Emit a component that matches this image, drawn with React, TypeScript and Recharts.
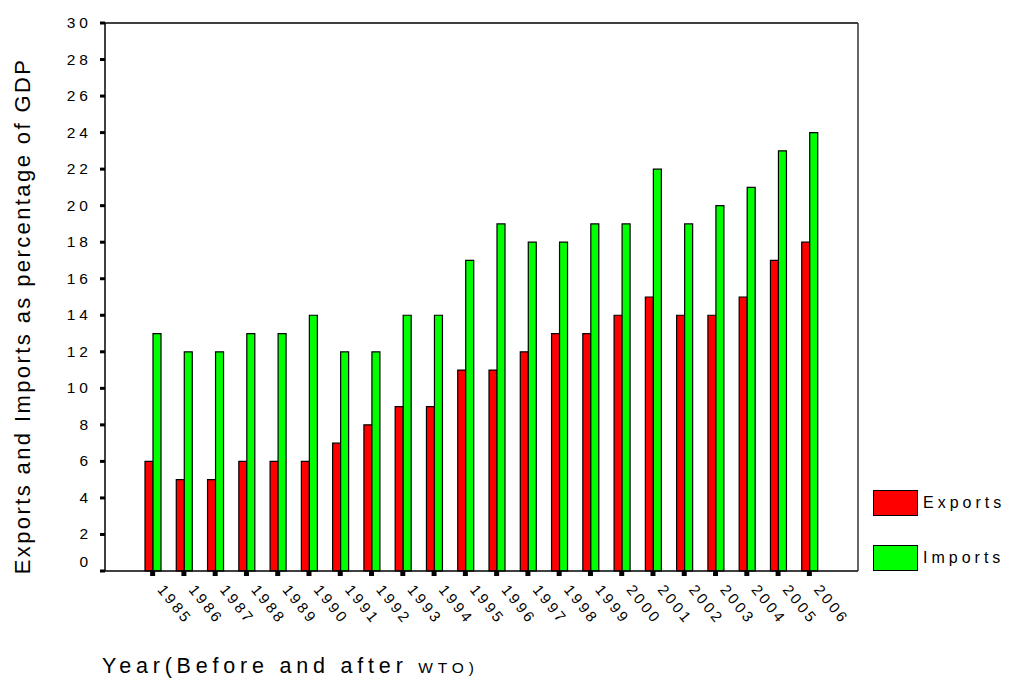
import React from 'react';
import { BarChart, Bar, XAxis, YAxis } from 'recharts';

const years = ['1985','1986','1987','1988','1989','1990','1991','1992','1993','1994','1995','1996','1997','1998','1999','2000','2001','2002','2003','2004','2005','2006'];
const exportsPct = [6,5,5,6,6,6,7,8,9,9,11,11,12,13,13,14,15,14,14,15,17,18];
const importsPct = [13,12,12,13,13,14,12,12,14,14,17,19,18,18,19,19,22,19,20,21,23,24];
const yTicks = [0,2,4,6,8,10,12,14,16,18,20,22,24,26,28,30];
const seriesNames = ['Exports', 'Imports'];
const seriesColors = ['#FF0000', '#00FF00'];

const data = years.map((y, i) => ({ year: y, Exports: exportsPct[i], Imports: importsPct[i] }));

const FONT = '"Liberation Sans", Arial, sans-serif';

const YTick = (props: any) => {
  const { x, y, payload } = props;
  const ls = 4;
  const yy = payload.value === 0 ? y - 9 : y;
  return (
    <text x={x + ls} y={yy} dy={5} textAnchor="end" fontSize={15.5} fontFamily={FONT} letterSpacing={ls} fill="#000">
      {payload.value}
    </text>
  );
};

const XTick = (props: any) => {
  const { x, y, payload } = props;
  return (
    <g transform={`translate(${x + 4},${y + 14}) rotate(51)`}>
      <text x={0} y={0} textAnchor="start" fontSize={15} fontFamily={FONT} letterSpacing={3} fill="#000">
        {payload.value}
      </text>
    </g>
  );
};

const YLabel = (props: any) => {
  const vb = props.viewBox || {};
  const cx = 22;
  const cy = vb.y + vb.height / 2 + 19;
  return (
    <text x={cx} y={cy} transform={`rotate(-90, ${cx}, ${cy})`} textAnchor="middle" dominantBaseline="central" fontSize={22} fontFamily={FONT} letterSpacing={2.4} fill="#000">
      Exports and Imports as percentage of GDP
    </text>
  );
};

const XLabel = (props: any) => {
  const vb = props.viewBox || {};
  return (
    <text x={vb.x - 3} y={vb.y + 102} textAnchor="start" fontFamily={FONT} fill="#000" letterSpacing={4.8}>
      <tspan fontSize={21.5}>Year(Before and after </tspan>
      <tspan fontSize={15.5}>WTO)</tspan>
    </text>
  );
};

const LegendBlock = () => (
  <div style={{ position: 'absolute', left: 873, top: 489, width: 140, fontFamily: FONT }}>
    {seriesNames.map((n, i) => (
      <div key={n} style={{ display: 'flex', alignItems: 'center', height: 27, marginBottom: i === 0 ? 28 : 0 }}>
        <div style={{ width: 43, height: 24, background: seriesColors[i], border: '1px solid #000', boxSizing: 'content-box' }} />
        <span style={{ marginLeft: 5, fontSize: 16, letterSpacing: 4, color: '#000' }}>{n}</span>
      </div>
    ))}
  </div>
);

export default function App() {
  return (
    <div style={{ position: 'absolute', left: 0, top: 0, width: 1010, height: 687, background: '#fff' }}>
      <BarChart
        width={1010}
        height={687}
        data={data}
        margin={{ top: 22, right: 151, bottom: 0, left: 0 }}
        barGap={0}
        barSize={8}
      >
        <XAxis
          dataKey="year"
          interval={0}
          padding={{ left: 32, right: 33 }}
          height={116}
          tickSize={5}
          tickMargin={0}
          tickLine={{ stroke: '#000', strokeWidth: 5 }}
          axisLine={{ stroke: '#000', strokeWidth: 1.5 }}
          tick={<XTick />}
          label={<XLabel />}
        />
        <XAxis
          xAxisId="top"
          dataKey="year"
          orientation="top"
          height={1}
          padding={{ left: 32, right: 33 }}
          tick={false}
          tickLine={false}
          axisLine={{ stroke: '#000', strokeWidth: 1.5 }}
        />
        <YAxis
          domain={[0, 30]}
          ticks={yTicks}
          interval={0}
          width={105}
          tickSize={5}
          tickMargin={12}
          tickLine={{ stroke: '#000', strokeWidth: 3 }}
          axisLine={{ stroke: '#000', strokeWidth: 1.5 }}
          tick={<YTick />}
          label={<YLabel />}
        />
        <YAxis
          yAxisId="right"
          orientation="right"
          width={1}
          domain={[0, 30]}
          tick={false}
          tickLine={false}
          axisLine={{ stroke: '#333', strokeWidth: 1.5 }}
        />
        <Bar dataKey="Exports" fill={seriesColors[0]} stroke="#000" strokeWidth={1.2} isAnimationActive={false} />
        <Bar dataKey="Imports" fill={seriesColors[1]} stroke="#000" strokeWidth={1.2} isAnimationActive={false} />
      </BarChart>
      <LegendBlock />
    </div>
  );
}
